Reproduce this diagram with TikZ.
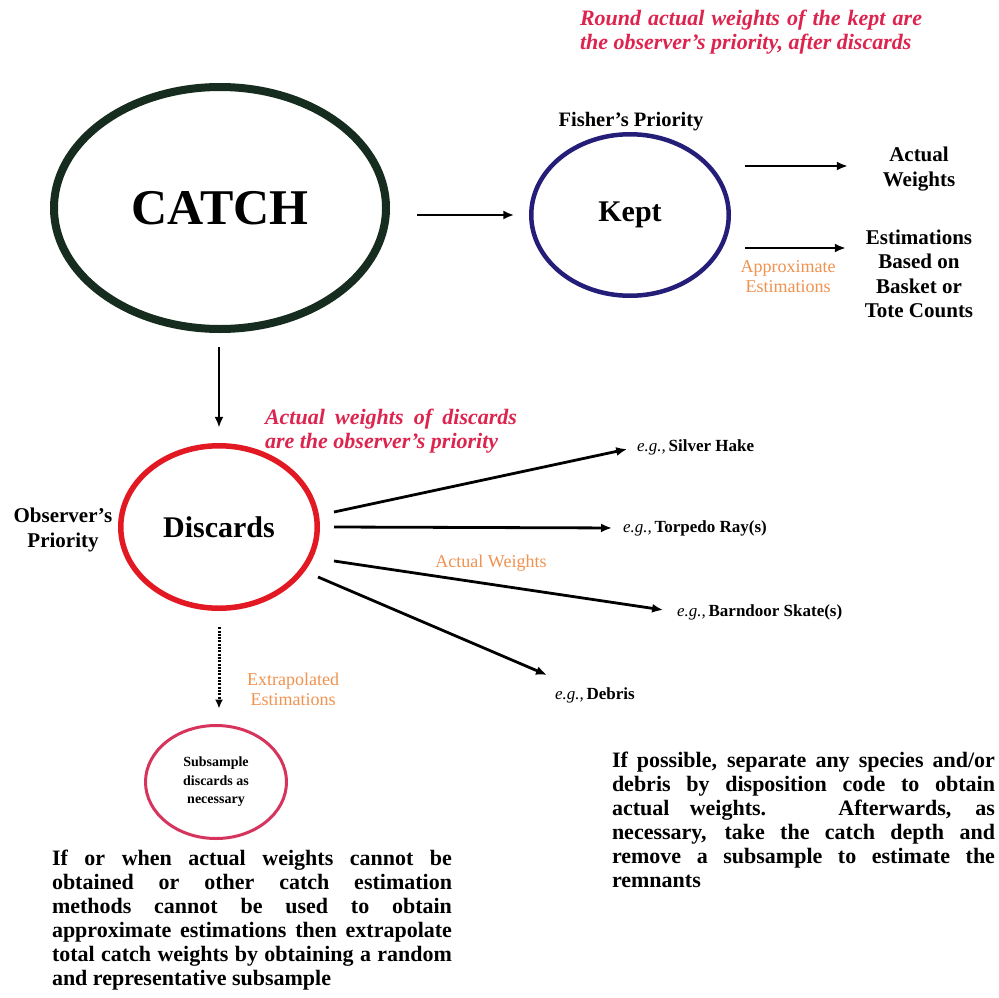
\documentclass[tikz,border=0pt]{standalone}
\usepackage{fontspec}
\setmainfont{Liberation Serif}
\usetikzlibrary{arrows.meta,shapes.geometric}

\definecolor{catchgreen}{RGB}{22,44,30}
\definecolor{keptblue}{RGB}{36,30,120}
\definecolor{discred}{RGB}{226,24,34}
\definecolor{subpink}{RGB}{214,52,92}
\definecolor{notered}{RGB}{220,36,78}
\definecolor{noteorange}{RGB}{240,146,80}

% font size with leading
\newcommand{\sz}[2]{\fontsize{#1}{#2}\selectfont}
% one justified line of a given width
\newcommand{\jline}[2]{\makebox[#1][s]{#2}}

\begin{document}
\begin{tikzpicture}[x=1pt,y=-1pt,
  every node/.style={inner sep=0pt, outer sep=0pt},
  bubble/.style={ellipse, draw},
  arr/.style={-{Latex[length=11pt,width=9pt]}, line width=2.8pt, black},
  dotarr/.style={-{Latex[length=9pt,width=8pt]}, line width=3pt, black, dash pattern=on 2pt off 1.3pt},
  lbl/.style={font=\bfseries\sz{21}{24.5}, align=center},
  note/.style={font=\bfseries\itshape\sz{22}{24}, text=notered, align=left},
  hint/.style={font=\sz{18}{20}, text=noteorange, align=center},
  eg/.style={font=\sz{17}{20}, anchor=west},
  body/.style={font=\bfseries\sz{22}{24}, align=left},
]
\useasboundingbox (0,0) rectangle (998,998);
\fill[white] (0,0) rectangle (998,998);

% main bubbles
\node[bubble, draw=catchgreen, line width=8pt, minimum width=332pt, minimum height=242pt,
      font=\bfseries\sz{50}{54}] (catch) at (220,208) {CATCH};
\node[bubble, draw=keptblue, line width=4.5pt, minimum width=197.5pt, minimum height=161.5pt,
      font=\bfseries\sz{30}{34}] (kept) at (630,215) {Kept};
\node[bubble, draw=discred, line width=5.5pt, minimum width=196.5pt, minimum height=162.5pt,
      font=\bfseries\sz{30}{34}] (discards) at (219,527) {Discards};
\node[bubble, draw=subpink, line width=3pt, minimum width=141pt, minimum height=113pt,
      font=\bfseries\sz{14}{18.5}, align=center] (subsample) at (216,782) {Subsample\\discards as\\necessary};

% notes and labels
\node[note, anchor=west] (keptnote) at (580,32)
  {\jline{342pt}{Round actual weights of the kept are}\\the observer’s priority, after discards};
\node[font=\bfseries\sz{20.5}{24}] (fisher) at (631,122) {Fisher’s Priority};
\node[lbl] (actualw) at (919,169) {Actual\\Weights};
\node[lbl] (estim) at (919,274) {Estimations\\Based on\\Basket or\\Tote Counts};
\node[hint] (approx) at (788,277) {Approximate\\Estimations};

\node[font=\bfseries\sz{21}{25}, align=center] (observer) at (63,530) {Observer’s\\Priority};
\node[note, anchor=west] (discnote) at (265,431)
  {\jline{252pt}{Actual weights of discards}\\are the observer’s priority};

\node[eg] (silver) at (637,447) {\textit{e.g.,}\,\textbf{Silver Hake}};
\node[eg] (torpedo) at (623,528) {\textit{e.g.,}\,\textbf{Torpedo Ray(s)}};
\node[eg] (barndoor) at (677,612) {\textit{e.g.,}\,\textbf{Barndoor Skate(s)}};
\node[eg] (debris) at (555,695) {\textit{e.g.,}\,\textbf{Debris}};
\node[hint] (actnote) at (491,563) {Actual Weights};
\node[hint] (extrap) at (293,689) {Extrapolated\\Estimations};

% explanatory paragraphs
\node[body, anchor=north west] (leftpara) at (52,850)
  {\jline{400pt}{If or when actual weights cannot be}\\
   \jline{400pt}{obtained or other catch estimation}\\
   \jline{400pt}{methods cannot be used to obtain}\\
   \jline{400pt}{approximate estimations then extrapolate}\\
   \jline{400pt}{total catch weights by obtaining a random}\\
   and representative subsample};
\node[body, anchor=north west] (rightpara) at (612,752)
  {\jline{383pt}{If possible, separate any species and/or}\\
   \jline{383pt}{debris by disposition code to obtain}\\
   \jline{383pt}{actual weights. \ Afterwards, as}\\
   \jline{383pt}{necessary, take the catch depth and}\\
   \jline{383pt}{remove a subsample to estimate the}\\
   remnants};

% connectors
\coordinate (ka) at (745,166);
\coordinate (kb) at (745,248);
\coordinate (d1) at (334,512);
\coordinate (d2) at (334,527);
\coordinate (d3) at (334,561);
\coordinate (d4) at (318,577);
\coordinate (t4) at (547,675);

\draw[arr, shorten <=31pt, shorten >=17pt] (catch.east |- kept.center) -- (kept.west);
\draw[arr, shorten <=18pt, shorten >=18pt] (discards.north |- catch.south) -- (discards.north);
\draw[arr, shorten >=35pt] (ka) -- (ka -| actualw.west);
\draw[arr, shorten >=19pt] (kb) -- (kb -| estim.west);
\draw[arr, shorten >=10pt] (d1) -- (silver.west);
\draw[arr, shorten >=11pt] (d2) -- (torpedo.west);
\draw[arr, shorten >=14pt] (d3) -- (barndoor.west);
\draw[arr] (d4) -- (t4);
\draw[dotarr, shorten <=19pt, shorten >=17pt] (discards.south) -- (discards.south |- subsample.north);
\end{tikzpicture}
\end{document}
